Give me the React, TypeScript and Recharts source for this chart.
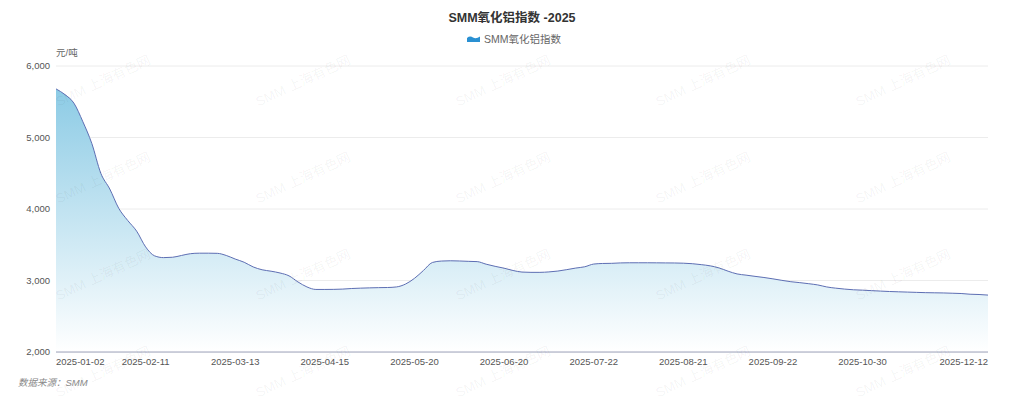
import React from 'react';
import { AreaChart, Area, XAxis, YAxis, CartesianGrid } from 'recharts';

// x labels shown on the axis, and the point index each one sits on
const tickLabels = [
  '2025-01-02', '2025-02-11', '2025-03-13', '2025-04-15', '2025-05-20', '2025-06-20',
  '2025-07-22', '2025-08-21', '2025-09-22', '2025-10-30', '2025-12-12',
];
const tickIndex = [0, 10, 20, 30, 40, 50, 60, 70, 80, 90, 104];

// SMM alumina index, roughly every second trading day (元/吨)
const aluminaIndex = [
  5680, 5600, 5480, 5220, 4915, 4500, 4280, 4010, 3840, 3690,
  3470, 3345, 3320, 3325, 3350, 3375, 3382, 3382, 3380, 3350,
  3300, 3255, 3190, 3150, 3130, 3105, 3065, 2980, 2910, 2875,
  2875, 2876, 2880, 2888, 2893, 2897, 2900, 2902, 2910, 2950,
  3030, 3140, 3252, 3272, 3276, 3273, 3268, 3264, 3228, 3198,
  3172, 3140, 3118, 3114, 3114, 3120, 3132, 3152, 3174, 3192,
  3230, 3238, 3240, 3246, 3248, 3248, 3248, 3247, 3246, 3245,
  3242, 3235, 3222, 3205, 3175, 3130, 3092, 3075, 3058, 3042,
  3023, 3002, 2983, 2970, 2955, 2938, 2910, 2893, 2880, 2870,
  2865, 2858, 2852, 2846, 2842, 2838, 2834, 2830, 2828, 2826,
  2822, 2818, 2808, 2804, 2796,
];
const yTicks = [2000, 3000, 4000, 5000, 6000];

const data = aluminaIndex.map((v, i) => ({ i, v }));
const font = "'Liberation Sans', 'Noto Sans CJK SC', sans-serif";

const XTick = (props: any) => {
  const { x, y, payload } = props;
  const k = tickIndex.indexOf(payload.value);
  const anchor = k === 0 ? 'start' : k === tickIndex.length - 1 ? 'end' : 'middle';
  return (
    <text x={x} y={y + 5} textAnchor={anchor} fontSize={9.5} fill="#555" fontFamily={font}>
      {tickLabels[k]}
    </text>
  );
};

const Watermarks = () => {
  const marks = [];
  for (let r = 0; r < 4; r++) {
    for (let c = 0; c < 5; c++) {
      const cx = 105 + c * 200;
      const cy = 85 + r * 97;
      marks.push(
        <text key={r + '-' + c} x={cx} y={cy} textAnchor="middle" fontSize={13.5}
          fill="rgba(0,0,0,0.05)" fontFamily={font}
          transform={`rotate(-25 ${cx} ${cy})`}>
          SMM 上海有色网
        </text>
      );
    }
  }
  return (
    <svg width={1024} height={399} style={{ position: 'absolute', left: 0, top: 0, pointerEvents: 'none' }}>
      {marks}
    </svg>
  );
};

export default function App() {
  return (
    <div style={{ position: 'absolute', left: 0, top: 0, width: 1024, height: 399, background: '#fff', fontFamily: font }}>
      <svg width={1024} height={399} style={{ position: 'absolute', left: 0, top: 0 }}>
        <text x={512} y={22} textAnchor="middle" fontSize={12.5} fontWeight="bold" fill="#333" fontFamily={font}>
          SMM氧化铝指数 -2025
        </text>
        <path d="M467 42 L467 38 Q470 35.5 473 37.5 Q476 39.5 480 36.5 L480 42 Z" fill="#2a90d2" />
        <text x={484} y={43} fontSize={10.5} fill="#666" fontFamily={font}>SMM氧化铝指数</text>
        <text x={56} y={56} fontSize={9.5} fill="#666" fontFamily={font}>元/吨</text>
        <text x={18} y={386} fontSize={9.5} fontStyle="italic" fill="#888" fontFamily={font}>数据来源：SMM</text>
      </svg>
      <div style={{ position: 'absolute', left: 0, top: 0 }}>
        <AreaChart width={1024} height={399} data={data} margin={{ top: 66, right: 36, bottom: 17, left: 0 }}>
          <defs>
            <linearGradient id="fillGrad" x1="0" y1="0" x2="0" y2="1">
              <stop offset="0%" stopColor="#8ccbe5" stopOpacity={1} />
              <stop offset="100%" stopColor="#ffffff" stopOpacity={1} />
            </linearGradient>
          </defs>
          <CartesianGrid vertical={false} stroke="#ececec" />
          <XAxis type="number" dataKey="i" domain={[0, aluminaIndex.length - 1]} ticks={tickIndex}
            interval={0} height={30} tickLine={false} axisLine={{ stroke: '#9ea3bb' }} tick={<XTick />} />
          <YAxis domain={[2000, 6000]} ticks={yTicks} width={56} tickLine={false} axisLine={false}
            tickSize={0} tickMargin={6}
            tickFormatter={(v: number) => v.toLocaleString('en-US')}
            tick={{ fontSize: 9.5, fill: '#555', fontFamily: font }} />
          <Area type="monotone" dataKey="v" stroke="#5d6eb3" strokeWidth={1} fill="url(#fillGrad)"
            fillOpacity={1} dot={false} activeDot={false} isAnimationActive={false} />
        </AreaChart>
      </div>
      <Watermarks />
    </div>
  );
}
